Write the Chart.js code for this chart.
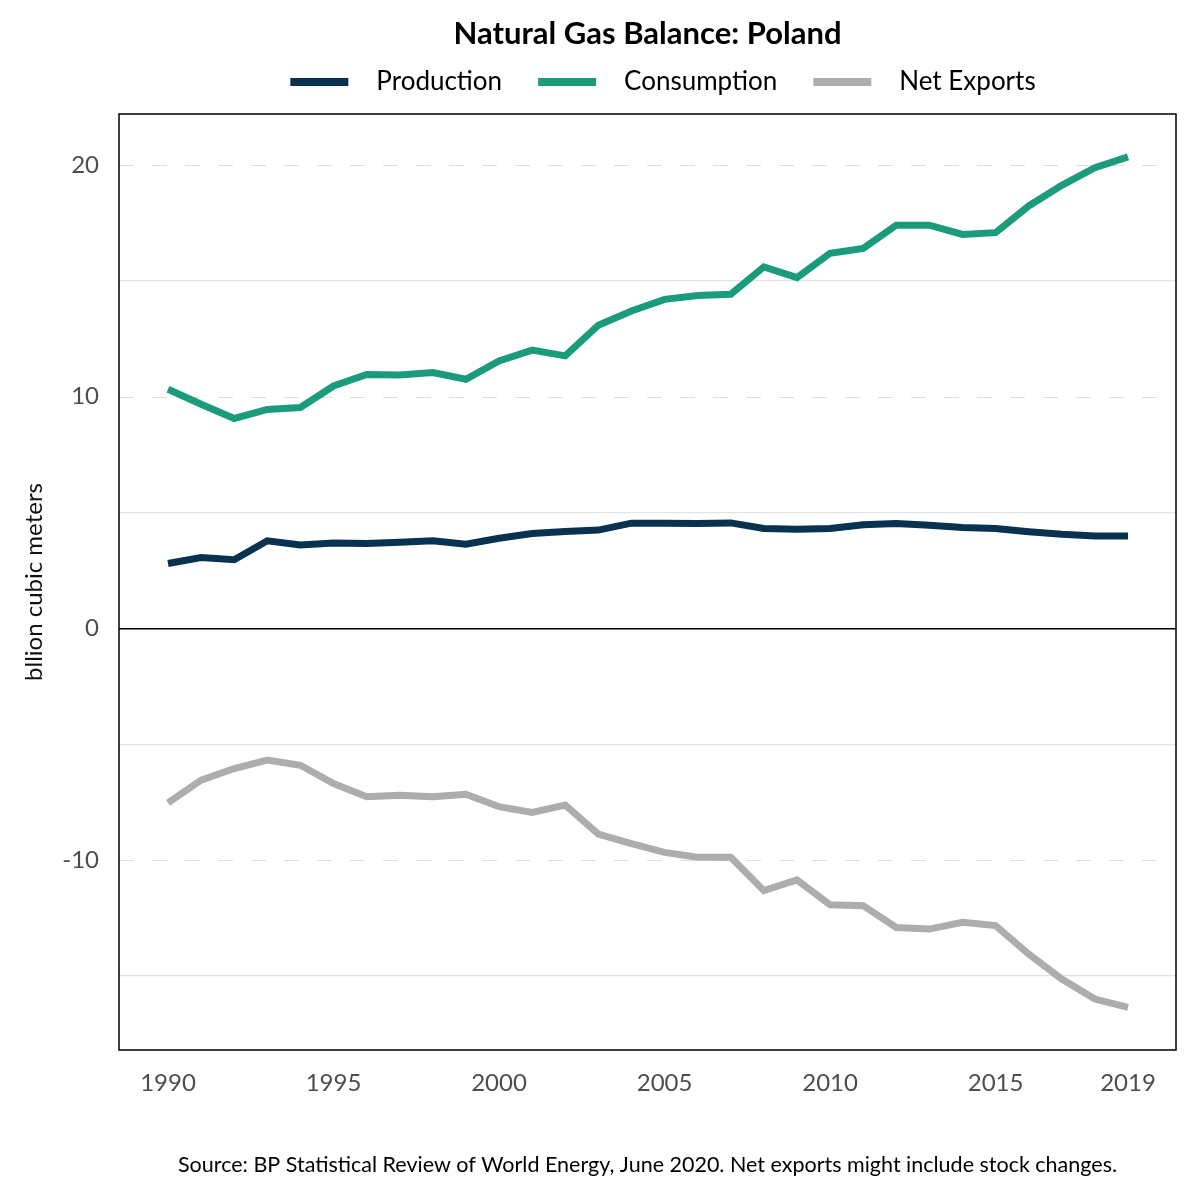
<!DOCTYPE html>
<html>
<head>
<meta charset="utf-8">
<script src="https://cdn.jsdelivr.net/npm/chart.js@4"></script>
<style>
  html, body { margin: 0; padding: 0; background: #fff; }
  #wrap { width: 1200px; height: 1200px; }
</style>
</head>
<body>
<div id="wrap"><canvas id="chart"></canvas></div>
<script>
const years = [1990,1991,1992,1993,1994,1995,1996,1997,1998,1999,2000,2001,2002,2003,2004,
  2005,2006,2007,2008,2009,2010,2011,2012,2013,2014,2015,2016,2017,2018,2019];
const production = [2.8,3.06,2.96,3.78,3.6,3.68,3.66,3.72,3.78,3.63,3.89,4.09,4.18,4.24,4.54,
  4.54,4.52,4.55,4.31,4.28,4.31,4.47,4.53,4.45,4.35,4.31,4.17,4.06,3.99,3.99];
const consumption = [10.32,9.67,9.06,9.45,9.53,10.46,10.96,10.94,11.04,10.75,11.54,12.01,11.76,13.08,13.7,
  14.2,14.37,14.42,15.6,15.14,16.19,16.4,17.4,17.4,17.0,17.08,18.23,19.12,19.88,20.35];
const netExports = [-7.53,-6.55,-6.05,-5.69,-5.91,-6.7,-7.27,-7.2,-7.27,-7.16,-7.7,-7.95,-7.63,-8.88,-9.29,
  -9.67,-9.88,-9.88,-11.32,-10.86,-11.93,-11.97,-12.91,-12.98,-12.69,-12.83,-14.06,-15.14,-16.0,-16.36];
const seriesNames = ['Production', 'Consumption', 'Net Exports'];
const seriesColors = ['#08324f', '#1a9b7c', '#adadad'];
const xTicks = [1990, 1995, 2000, 2005, 2010, 2015, 2019];
const yTicks = [-15, -10, -5, 0, 5, 10, 15, 20];

const FONT = 'Lato';
const title = 'Natural Gas Balance: Poland';
const source = 'Source: BP Statistical Review of World Energy, June 2020. Net exports might include stock changes.';

const toPoints = vals => vals.map((v, i) => ({ x: years[i], y: v }));

// dashed major grid, frame, title, custom legend and source note
const decor = {
  id: 'decor',
  beforeDatasetsDraw(chart) {
    const { ctx, chartArea: a, scales: { y } } = chart;
    ctx.save();
    ctx.strokeStyle = '#dedede';
    ctx.lineWidth = 1.2;
    ctx.setLineDash([15, 18]);
    yTicks.filter(v => v !== 0 && v % 10 === 0).forEach(v => {
      const py = Math.round(y.getPixelForValue(v)) + 0.5;
      ctx.beginPath();
      ctx.moveTo(a.left, py);
      ctx.lineTo(a.right, py);
      ctx.stroke();
    });
    ctx.restore();
  },
  afterDraw(chart) {
    const { ctx, chartArea: a } = chart;
    const cx = (a.left + a.right) / 2;
    ctx.save();
    ctx.strokeStyle = '#000';
    ctx.lineWidth = 1.5;
    ctx.strokeRect(a.left, a.top, a.right - a.left, a.bottom - a.top);

    ctx.fillStyle = '#000';
    ctx.textBaseline = 'middle';
    ctx.textAlign = 'center';
    ctx.font = 'bold 31px ' + FONT;
    ctx.fillText(title, cx, 34);

    // legend
    ctx.font = '26px ' + FONT;
    const sw = 58, gapText = 28, gapItem = 36;
    const widths = seriesNames.map(n => ctx.measureText(n).width);
    const total = widths.reduce((s, w) => s + sw + gapText + w, 0) + gapItem * (seriesNames.length - 1);
    let x = 663 - total / 2;
    ctx.textAlign = 'left';
    seriesNames.forEach((n, i) => {
      ctx.fillStyle = seriesColors[i];
      ctx.fillRect(x, 78, sw, 8);
      x += sw + gapText;
      ctx.fillStyle = '#000';
      ctx.fillText(n, x, 82);
      x += widths[i] + gapItem;
    });

    ctx.textAlign = 'center';
    ctx.font = '21.5px ' + FONT;
    ctx.fillText(source, cx, 1165);
    ctx.restore();
  }
};

new Chart(document.getElementById('chart'), {
  type: 'line',
  data: {
    datasets: [production, consumption, netExports].map((vals, i) => ({
      label: seriesNames[i],
      data: toPoints(vals),
      borderColor: seriesColors[i],
      backgroundColor: seriesColors[i],
      borderWidth: 7,
      pointRadius: 0,
      tension: 0,
      fill: false
    }))
  },
  options: {
    responsive: true,
    maintainAspectRatio: false,
    animation: false,
    layout: { padding: { top: 114, right: 24, left: 0, bottom: 0 } },
    plugins: {
      legend: { display: false },
      title: { display: false },
      tooltip: { enabled: false }
    },
    scales: {
      x: {
        type: 'linear',
        min: 1988.52,
        max: 2020.45,
        afterBuildTicks: s => { s.ticks = xTicks.map(v => ({ value: v })); },
        afterFit: s => { s.height = 150; },
        grid: { display: false },
        border: { display: false },
        ticks: {
          padding: 11,
          color: '#4d4d4d',
          font: { family: FONT, size: 24 },
          maxRotation: 0,
          callback: v => String(v)
        }
      },
      y: {
        min: -18.2,
        max: 22.2,
        afterBuildTicks: s => { s.ticks = yTicks.map(v => ({ value: v })); },
        afterFit: s => { s.width = 119; },
        border: { display: false },
        grid: {
          drawTicks: false,
          color: c => c.tick.value === 0 ? '#000' : (c.tick.value % 10 === 0 ? 'rgba(0,0,0,0)' : '#e3e3e3'),
          lineWidth: c => c.tick.value === 0 ? 1.5 : 1.2
        },
        ticks: {
          padding: 20,
          color: '#4d4d4d',
          font: { family: FONT, size: 24 },
          callback: v => v % 10 === 0 ? String(v) : ''
        },
        title: {
          display: true,
          text: 'bllion cubic meters',
          color: '#111',
          font: { family: FONT, size: 24 },
          padding: { top: 20, bottom: 6 }
        }
      }
    }
  },
  plugins: [decor]
});
</script>
</body>
</html>
